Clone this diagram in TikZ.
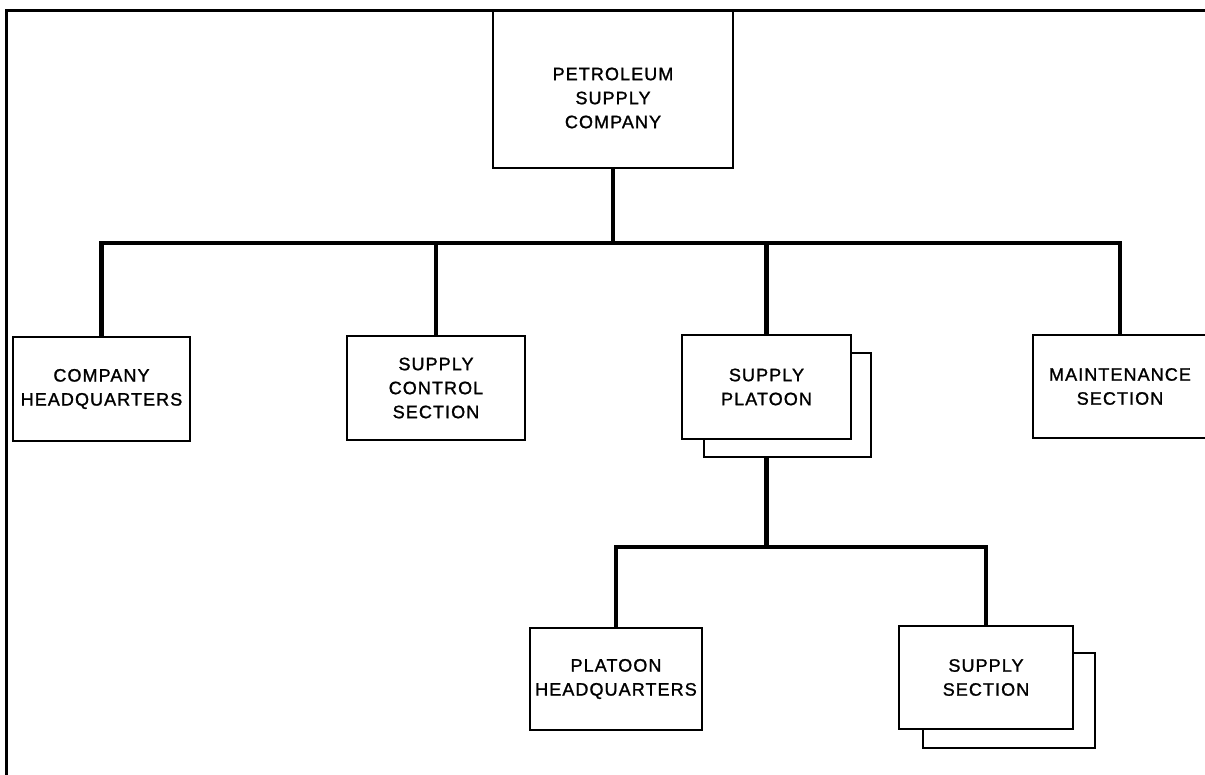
\documentclass[tikz,border=0pt]{standalone}
\usepackage{fontspec}
\setmainfont{Liberation Sans}[LetterSpace=6,FakeBold=1.3]
\begin{document}
\begin{tikzpicture}[x=1pt,y=-1pt,
  unit/.style={draw, line width=2.7pt, fill=white, inner sep=0pt, align=center,
    font=\fontsize{18}{24}\selectfont},
  txt/.style={inner sep=0pt, align=center, font=\fontsize{18}{24}\selectfont},
  bus/.style={line width=4.5pt},
  frame/.style={line width=3pt}]
\useasboundingbox (0,0) rectangle (1205,775);

% outer frame (top and left edges)
\draw[frame] (6,775) -- (6,11) -- (1205,11);

% headquarters of the company
\node[unit, minimum width=240pt, minimum height=157pt] (psc) at (613,89.5) {};
\node[txt] (psctext) at (613,98) {PETROLEUM\\SUPPLY\\COMPANY};

% second level
\node[unit, minimum width=177pt, minimum height=104pt] (chq) at (101.5,389) {COMPANY\\HEADQUARTERS};
\node[unit, minimum width=178pt, minimum height=104pt] (scs) at (436,388) {SUPPLY\\CONTROL\\SECTION};
\node[unit, minimum width=167pt, minimum height=104pt] (spb) at (787.5,405) {};
\node[unit, minimum width=169pt, minimum height=104pt] (sp) at (766.5,387) {SUPPLY\\PLATOON};
\node[unit, minimum width=174pt, minimum height=103pt] (ms) at (1120,386.5) {MAINTENANCE\\SECTION};

% third level
\node[unit, minimum width=172pt, minimum height=102pt] (phq) at (616,679) {PLATOON\\HEADQUARTERS};
\node[unit, minimum width=172pt, minimum height=95pt] (ssb) at (1009,700.5) {};
\node[unit, minimum width=174pt, minimum height=103pt] (ss) at (986,677.5) {SUPPLY\\SECTION};

% upper connectors
\coordinate (b1) at (613,243);
\draw[bus] (psc.south) -- (b1);
\draw[bus] (chq.north) |- (b1) -| (ms.north);
\draw[bus] (scs.north) -- (scs.north |- b1);
\draw[bus] (sp.north) -- (sp.north |- b1);

% lower connectors
\coordinate (b2) at (767,547);
\draw[bus] (sp.south |- spb.south) -- (sp.south |- b2);
\draw[bus] (phq.north) |- (b2) -| (ss.north);
\end{tikzpicture}
\end{document}
